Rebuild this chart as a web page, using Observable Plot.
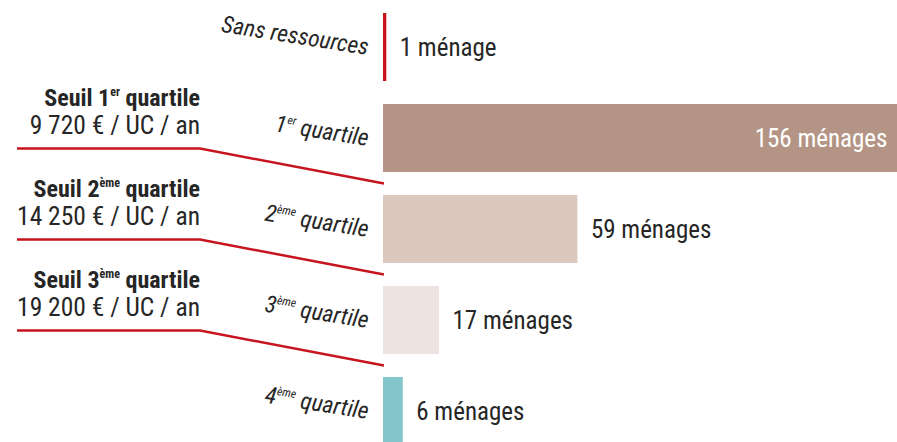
<!DOCTYPE html>
<html><head><meta charset="utf-8">
<script src="https://cdn.jsdelivr.net/npm/d3@7"></script>
<script src="https://cdn.jsdelivr.net/npm/@observablehq/plot@0.6"></script>
<style>
html,body{margin:0;padding:0;background:#fff;overflow:hidden}
#chart svg{display:block}
</style></head><body><div id="chart"></div>
<script>
const categories = ["Sans ressources", "1er quartile", "2ème quartile", "3ème quartile", "4ème quartile"];
const counts = [1, 156, 59, 17, 6];
const barColors = ["#c8141f", "#b49585", "#dbc9c0", "#ede4e1", "#83c6cc"];
const thresholdTitles = ["Seuil 1er quartile", "Seuil 2ème quartile", "Seuil 3ème quartile"];
const thresholdValues = ["9 720 € / UC / an", "14 250 € / UC / an", "19 200 € / UC / an"];

const maxCount = d3.max(counts);
const data = categories.map((c, i) => ({
  category: c,
  count: counts[i],
  label: `${counts[i]} ${counts[i] > 1 ? "ménages" : "ménage"}`,
  inside: counts[i] === maxCount
}));

const FONT = '"Roboto Condensed", Roboto, sans-serif';
const INK = "#262626";
const RED = "#c8141f";

const chart = Plot.plot({
  width: 897, height: 442,
  marginLeft: 383, marginRight: 0, marginTop: 0, marginBottom: 0,
  style: {fontFamily: FONT, background: "#fff", overflow: "hidden", fontStretch: "condensed"},
  x: {domain: [0, maxCount], axis: null},
  y: {domain: categories, range: [-11.5, 469.5], padding: 0.257, axis: null},
  color: {domain: categories, range: barColors},
  marks: [
    Plot.barX(data, {x: "count", y: "category", fill: "category"}),
    Plot.text(data.filter(d => !d.inside), {x: "count", y: "category", text: "label", dx: 13, textAnchor: "start", fontSize: 25, fill: INK}),
    Plot.text(data.filter(d => d.inside), {x: "count", y: "category", text: "label", dx: -10, textAnchor: "end", fontSize: 25, fill: "#fff"}),
    Plot.text(data, {x: 0, y: "category", text: "category", dx: -15, textAnchor: "end", rotate: 9, fontSize: 23.5, fontStyle: "italic", fill: INK})
  ]
});

function superscriptify(el, fontSize) {
  const s = el.textContent;
  const m = s.match(/^(.*?\d)(er|ème)(\s.*)$/);
  if (!m) return;
  const t = d3.select(el);
  t.text(null);
  const rise = fontSize * 0.4;
  t.append("tspan").text(m[1]);
  t.append("tspan").attr("dy", -rise).attr("font-size", fontSize * 0.5).text(m[2]);
  t.append("tspan").attr("dy", rise).text(m[3]);
}

const svg = d3.select(chart);
svg.selectAll("text").each(function() { superscriptify(this, 23.5); });

const ys = chart.scale("y"), xs = chart.scale("x");
const x0 = xs.apply(0);
const g = svg.append("g").attr("font-family", FONT).attr("fill", INK);
thresholdTitles.forEach((title, i) => {
  const gapY = ys.apply(categories[i + 1]) + ys.bandwidth + (ys.step - ys.bandwidth) / 2;
  const hY = gapY - 35;
  g.append("path")
    .attr("d", `M17,${hY}H200L${x0 + 1},${gapY}`)
    .attr("fill", "none").attr("stroke", RED).attr("stroke-width", 2.5);
  const tt = g.append("text").attr("x", 200).attr("y", hY - 43)
    .attr("text-anchor", "end").attr("font-weight", "bold").attr("font-size", 24).text(title);
  superscriptify(tt.node(), 24);
  g.append("text").attr("x", 200).attr("y", hY - 15)
    .attr("text-anchor", "end").attr("font-size", 25.5).text(thresholdValues[i]);
});

document.getElementById("chart").appendChild(chart);
</script></body></html>
